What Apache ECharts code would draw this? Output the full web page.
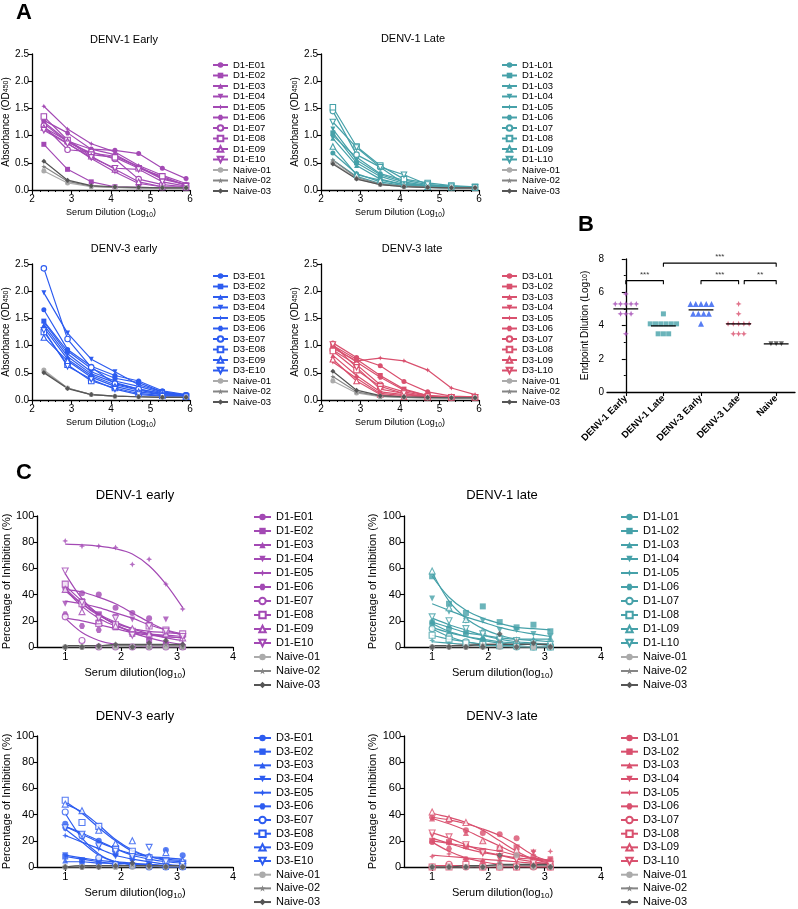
<!DOCTYPE html>
<html><head><meta charset="utf-8">
<script src="https://cdn.jsdelivr.net/npm/echarts@6/dist/echarts.min.js"></script>
<style>html,body{margin:0;padding:0;background:#fff}#c{width:798px;height:909px}</style>
</head><body><div id="c"></div>
<script>
// ---------------- DATA ----------------
// Panel A: ELISA absorbance (OD450) vs serum dilution (log10)
const aX = [2.3, 2.9, 3.5, 4.1, 4.7, 5.3, 5.9];
const namesD1E = ['D1-E01','D1-E02','D1-E03','D1-E04','D1-E05','D1-E06','D1-E07','D1-E08','D1-E09','D1-E10'];
const namesD1L = ['D1-L01','D1-L02','D1-L03','D1-L04','D1-L05','D1-L06','D1-L07','D1-L08','D1-L09','D1-L10'];
const namesD3E = ['D3-E01','D3-E02','D3-E03','D3-E04','D3-E05','D3-E06','D3-E07','D3-E08','D3-E09','D3-E10'];
const namesD3L = ['D3-L01','D3-L02','D3-L03','D3-L04','D3-L05','D3-L06','D3-L07','D3-L08','D3-L09','D3-L10'];
const namesNaive = ['Naive-01','Naive-02','Naive-03'];

const aD1Early = [
 [1.25,0.90,0.75,0.73,0.67,0.40,0.21],
 [0.84,0.38,0.15,0.06,0.05,0.04,0.04],
 [1.22,0.88,0.68,0.62,0.43,0.22,0.10],
 [1.12,0.86,0.58,0.33,0.12,0.06,0.05],
 [1.54,1.12,0.85,0.70,0.45,0.27,0.12],
 [1.28,1.05,0.75,0.65,0.42,0.20,0.10],
 [1.18,0.74,0.70,0.57,0.20,0.10,0.06],
 [1.35,0.92,0.65,0.60,0.40,0.25,0.08],
 [1.15,0.90,0.62,0.38,0.15,0.06,0.05],
 [1.10,0.85,0.60,0.40,0.38,0.15,0.07]
];
const aD1EarlyNaive = [
 [0.35,0.13,0.06,0.05,0.04,0.04,0.04],
 [0.43,0.16,0.07,0.05,0.04,0.04,0.04],
 [0.53,0.18,0.08,0.06,0.05,0.04,0.04]
];
const aD1Late = [
 [0.68,0.30,0.15,0.08,0.05,0.04,0.04],
 [1.05,0.50,0.25,0.12,0.07,0.05,0.04],
 [0.95,0.45,0.20,0.10,0.06,0.05,0.04],
 [1.12,0.55,0.28,0.15,0.08,0.06,0.05],
 [0.55,0.25,0.12,0.07,0.05,0.04,0.04],
 [1.00,0.60,0.30,0.18,0.10,0.07,0.05],
 [1.45,0.65,0.42,0.12,0.08,0.06,0.05],
 [1.52,0.80,0.45,0.20,0.13,0.08,0.06],
 [0.80,0.28,0.18,0.10,0.06,0.05,0.04],
 [1.25,0.78,0.42,0.28,0.10,0.06,0.05]
];
const aD1LateNaive = [
 [0.50,0.21,0.10,0.06,0.05,0.04,0.04],
 [0.55,0.23,0.11,0.07,0.05,0.04,0.04],
 [0.48,0.20,0.10,0.06,0.05,0.04,0.04]
];
const aD3Early = [
 [1.66,0.93,0.62,0.45,0.35,0.17,0.10],
 [1.45,0.90,0.58,0.40,0.32,0.15,0.09],
 [1.38,0.80,0.48,0.32,0.20,0.12,0.08],
 [1.97,1.23,0.75,0.52,0.28,0.15,0.09],
 [1.43,0.85,0.52,0.35,0.25,0.13,0.08],
 [1.33,0.75,0.45,0.28,0.18,0.10,0.07],
 [2.42,1.12,0.60,0.30,0.20,0.12,0.08],
 [1.25,0.65,0.35,0.22,0.12,0.08,0.06],
 [1.15,0.72,0.42,0.25,0.15,0.10,0.07],
 [1.28,0.62,0.38,0.20,0.10,0.07,0.06]
];
const aD3EarlyNaive = [
 [0.55,0.22,0.10,0.07,0.06,0.05,0.05],
 [0.52,0.22,0.10,0.07,0.06,0.05,0.05],
 [0.50,0.21,0.10,0.07,0.06,0.05,0.05]
];
const aD3Late = [
 [1.05,0.78,0.63,0.34,0.15,0.07,0.06],
 [1.00,0.75,0.45,0.20,0.08,0.06,0.05],
 [0.82,0.45,0.15,0.10,0.06,0.05,0.05],
 [0.70,0.40,0.12,0.08,0.06,0.05,0.05],
 [0.95,0.72,0.77,0.72,0.55,0.22,0.10],
 [0.98,0.70,0.42,0.18,0.08,0.06,0.05],
 [0.92,0.65,0.28,0.15,0.07,0.05,0.05],
 [0.90,0.55,0.25,0.12,0.06,0.05,0.05],
 [0.75,0.35,0.10,0.06,0.05,0.05,0.05],
 [1.02,0.60,0.20,0.12,0.06,0.05,0.05]
];
const aD3LateNaive = [
 [0.35,0.13,0.06,0.05,0.04,0.04,0.04],
 [0.43,0.15,0.07,0.05,0.04,0.04,0.04],
 [0.53,0.18,0.08,0.06,0.05,0.04,0.04]
];

// Panel B: endpoint dilution (log10)
const bGroups = ['DENV-1 Early','DENV-1 Late','DENV-3 Early','DENV-3 Late','Naive'];
const bD1E = [5.9,5.3,5.3,5.3,5.3,5.3,4.7,4.7,4.7,3.5];
const bD1L = [4.7,4.1,4.1,4.1,4.1,4.1,4.1,3.5,3.5,3.5];
const bD3E = [5.3,5.3,5.3,5.3,5.3,4.7,4.7,4.7,4.7,4.1];
const bD3L = [5.3,4.7,4.1,4.1,4.1,4.1,4.1,3.5,3.5,3.5];
const bNaive = [2.9,2.9,2.9];
const bSigFrom = [0, 2, 3.15, 1];
const bSigTo   = [1, 3, 4, 4];
const bSigY    = [6.7, 6.7, 6.7, 7.75];
const bSigText = ['***','***','**','***'];

// Panel C: % inhibition vs serum dilution (log10); points and fitted curve values
const cX = [1, 1.3, 1.6, 1.9, 2.2, 2.5, 2.8, 3.1];
const cD1EarlyPts = [
 [45,41,40,30,26,22,13,9],
 [48,35,25,15,10,5,2,0],
 [44,33,22,18,14,8,5,3],
 [33,30,24,23,21,17,21,8],
 [81,77,77,76,63,67,48,29],
 [25,16,13,16,12,10,9,8],
 [23,5,0,0,0,0,0,0],
 [48,33,18,17,12,16,13,10],
 [44,27,20,16,14,10,10,7],
 [58,34,22,22,9,16,12,8]
];
const cD1EarlyFit = [
 [44,42,38,33,26,19,13,9],
 [47,35,25,17,11,7,4,2],
 [43,33,25,19,14,10,7,5],
 [35,33,30,26,22,17,13,10],
 [78.5,78,77,75,71,62,48,30],
 [22,20,17,14,11,9,8,7],
 [22,11,5,2,1,0,0,0],
 [45,33,24,18,14,12,11,10],
 [44,31,22,16,12,10,8,7],
 [56,37,25,17,12,10,9,8]
];
const cD1EarlyNaivePts = [[0,0,0,0,0,0,0,0],[0,0,0,1,0,0,2,0],[0,0,1,2,0,3,5,2]];
const cD1EarlyNaiveFit = [[0,0,0,0,0,0,0,0],[1,1,1,1,1,1,1,1],[1,1,1,2,2,2,2,2]];

const cD1LatePts = [
 [19,14,10,5,3,2,1,1],
 [54,33,26,31,19,15,17,12],
 [20,17,12,8,6,4,6,7],
 [37,27,20,20,13,13,10,8],
 [5,3,2,1,1,0,0,0],
 [17,10,12,6,4,3,2,2],
 [14,8,4,2,1,0,0,0],
 [9,6,3,2,1,1,0,0],
 [58,30,21,12,8,5,4,3],
 [23,20,14,10,6,5,3,2]
];
const cD1LateFit = [
 [18,12,8,5,3,2,2,1],
 [54,38,28,22,18,15,14,13],
 [19,15,11,9,7,6,6,6],
 [33,28,23,19,15,12,10,8],
 [4,3,2,1,1,0,0,0],
 [15,11,8,6,4,3,2,2],
 [14,8,4,2,1,0,0,0],
 [9,6,4,2,1,1,0,0],
 [57,35,22,14,9,6,5,4],
 [22,17,13,9,6,4,3,2]
];
const cD1LateNaivePts = [[0,0,0,0,0,0,0,0],[0,1,0,2,4,5,3,1],[0,0,0,0,10,0,3,0]];
const cD1LateNaiveFit = [[0,0,0,0,0,0,0,0],[1,1,2,2,2,2,2,2],[1,1,1,2,2,2,2,2]];

const cD3EarlyPts = [
 [33,24,20,10,8,8,13,9],
 [8,5,4,2,1,1,0,0],
 [5,4,3,3,2,1,1,1],
 [9,5,15,8,4,2,2,1],
 [24,22,14,9,5,3,2,1],
 [30,25,6,2,1,0,0,0],
 [42,24,7,2,1,0,0,0],
 [51,34,31,14,12,7,5,3],
 [48,43,28,18,20,8,11,5],
 [30,25,16,12,8,15,4,2]
];
const cD3EarlyFit = [
 [31,25,19,14,10,8,7,6],
 [8,6,4,2,1,1,0,0],
 [4,4,3,3,2,2,1,1],
 [9,7,5,4,3,2,1,1],
 [24,19,14,9,6,4,2,1],
 [29,19,9,4,2,1,0,0],
 [41,22,10,4,2,1,0,0],
 [50,41,30,20,12,8,5,4],
 [48,42,32,21,13,8,6,5],
 [31,26,20,14,9,6,4,3]
];
const cD3EarlyNaivePts = [[0,0,0,0,0,0,0,0],[0,0,1,0,2,0,1,0],[0,0,0,1,3,1,0,0]];
const cD3EarlyNaiveFit = [[0,0,0,0,0,0,0,0],[0,0,1,1,1,1,1,1],[0,1,1,1,1,1,1,1]];

const cD3LatePts = [
 [38,36,28,26,25,22,8,3],
 [20,19,16,12,14,15,5,5],
 [37,36,26,20,14,10,5,3],
 [24,18,15,10,6,5,11,6],
 [8,10,6,5,4,4,12,12],
 [19,14,6,3,1,0,0,0],
 [0,2,0,0,0,0,0,0],
 [0,0,2,0,0,0,1,0],
 [42,37,34,20,15,13,4,2],
 [26,23,17,11,8,6,3,2]
];
const cD3LateFit = [
 [38,36,33,29,24,17,9,4],
 [20,18,16,14,12,9,7,5],
 [37,33,28,22,16,10,6,4],
 [22,18,14,11,9,7,6,5],
 [9,8,7,6,5,4,3,3],
 [19,12,7,4,2,1,0,0],
 [1,1,1,0,0,0,0,0],
 [0,0,0,0,0,0,0,0],
 [41,38,34,28,20,12,6,3],
 [26,22,17,12,9,6,4,2]
];
const cD3LateNaivePts = [[0,0,0,0,0,9,0,0],[0,0,0,0,3,0,2,0],[0,0,0,0,9,0,1,0]];
const cD3LateNaiveFit = [[0,0,0,0,1,1,1,1],[0,0,0,1,1,1,1,1],[0,0,1,1,2,2,2,2]];

// ---------------- STYLE ----------------
const FONT = 'Liberation Sans, Arial, Helvetica, sans-serif';
const colD1E = '#a349b4', colD1L = '#46a1a9', colD3E = '#2d5cf0', colD3L = '#d9506e';
const naiveCols = ['#ababab', '#858585', '#555555'];
const STAR4 = 'path://M0,-10 L3,-3 L10,0 L3,3 L0,10 L-3,3 L-10,0 L-3,-3 Z';
const HEX = 'path://M-10,0 L-5,-8.7 L5,-8.7 L10,0 L5,8.7 L-5,8.7 Z';
const STAR5 = 'path://M0,-10 L2.4,-3.1 L9.5,-3.1 L3.8,1.2 L5.9,8.1 L0,4 L-5.9,8.1 L-3.8,1.2 L-9.5,-3.1 L-2.4,-3.1 Z';
const shapes = [
 {s:'circle'}, {s:'rect'}, {s:'triangle'}, {s:'triangle', r:180}, {s:STAR4}, {s:HEX},
 {s:'circle', o:true}, {s:'rect', o:true}, {s:'triangle', o:true}, {s:'triangle', r:180, o:true}
];
const naiveShapes = [{s:'circle'}, {s:STAR5}, {s:'diamond'}];

const grids = [], xAxes = [], yAxes = [], series = [], legends = [], graphics = [];
const axisBase = {
  axisLine: {show: true, lineStyle: {color: '#000', width: 1.3}},
  axisTick: {show: true, length: 4, lineStyle: {color: '#000', width: 1.1}},
  splitLine: {show: false}
};

function styleFor(shape, color, size) {
  return {
    symbol: shape.s, symbolRotate: shape.r || 0, symbolSize: size,
    color: color,
    itemStyle: shape.o ? {color: '#fff', borderColor: color, borderWidth: 1.1} : {color: color},
    lineStyle: {color: color, width: 1.2}
  };
}

function addText(text, x, y, size, weight) {
  graphics.push({type: 'text', x: x, y: y, z: 100,
    style: {text: text, fill: '#000', font: (weight || 'normal') + ' ' + size + 'px ' + FONT, align: 'center', verticalAlign: 'middle'}});
}

function addA(cfg) {
  const gi = grids.length;
  grids.push({left: cfg.left, top: cfg.top, width: 158, height: 136});
  const xi = xAxes.length, yi = yAxes.length;
  xAxes.push(Object.assign({}, axisBase, {
    gridIndex: gi, type: 'value', min: 2, max: 6, interval: 1,
    minorTick: {show: true, splitNumber: 5, length: 2, lineStyle: {color: '#000'}},
    axisLabel: {fontSize: 10, color: '#000', margin: 4, fontFamily: FONT},
    name: 'Serum Dilution (Log{sub|10})', nameLocation: 'middle', nameGap: 17,
    nameTextStyle: {fontSize: 9, color: '#000', fontFamily: FONT, rich: {sub: {fontSize: 6.5, padding: [5, 0, 0, 0], fontFamily: FONT}}}
  }));
  yAxes.push(Object.assign({}, axisBase, {
    gridIndex: gi, type: 'value', min: 0, max: 2.5, interval: 0.5,
    axisLabel: {fontSize: 10, color: '#000', margin: 3, fontFamily: FONT, formatter: v => v.toFixed(1)},
    name: 'Absorbance (OD{sub|450})', nameLocation: 'middle', nameGap: 16,
    nameTextStyle: {fontSize: 10, color: '#000', fontFamily: FONT, rich: {sub: {fontSize: 7, fontFamily: FONT}}}
  }));
  const all = cfg.data.map((d, i) => ({name: cfg.names[i], vals: d, st: styleFor(shapes[i], cfg.color, shapes[i].o ? 5.5 : 5)}))
    .concat(cfg.naive.map((d, i) => ({name: namesNaive[i], vals: d, st: styleFor(naiveShapes[i], naiveCols[i], 5)})));
  all.forEach(a => {
    series.push(Object.assign({
      type: 'line', name: a.name, xAxisIndex: xi, yAxisIndex: yi,
      data: aX.map((x, j) => [x, a.vals[j]]), showSymbol: true
    }, a.st));
  });
  legends.push({
    orient: 'vertical', left: cfg.legLeft, top: cfg.legTop, height: 200, padding: 0,
    data: cfg.names.concat(namesNaive),
    itemWidth: 15, itemHeight: 7, itemGap: 0.5, selectedMode: false,
    textStyle: {fontSize: 9.5, lineHeight: 9.8, color: '#000', fontFamily: FONT}
  });
  addText(cfg.title, cfg.titleX, cfg.titleY, 11);
}

function addC(cfg) {
  const gi = grids.length;
  grids.push({left: cfg.left, top: cfg.top, width: 197, height: 131});
  const xi = xAxes.length, yi = yAxes.length;
  xAxes.push(Object.assign({}, axisBase, {
    gridIndex: gi, type: 'value', min: 0.5, max: 4,
    axisTick: {show: true, length: 4, lineStyle: {color: '#000', width: 1.1}, customValues: [1, 2, 3, 4]},
    axisLabel: {fontSize: 11, color: '#000', margin: 4, fontFamily: FONT, customValues: [1, 2, 3, 4]},
    name: 'Serum dilution(log{sub|10})', nameLocation: 'middle', nameGap: 19,
    nameTextStyle: {fontSize: 11, color: '#000', fontFamily: FONT, rich: {sub: {fontSize: 8, padding: [6, 0, 0, 0], fontFamily: FONT}}}
  }));
  yAxes.push(Object.assign({}, axisBase, {
    gridIndex: gi, type: 'value', min: 0, max: 100, interval: 20,
    axisLabel: {fontSize: 11, color: '#000', margin: 3, fontFamily: FONT},
    name: 'Percentage of Inhibition (%)', nameLocation: 'middle', nameGap: 22,
    nameTextStyle: {fontSize: 11, color: '#000', fontFamily: FONT}
  }));
  const all = cfg.pts.map((p, i) => ({name: cfg.names[i], p: p, f: cfg.fit[i], st: styleFor(shapes[i], cfg.color, 6)}))
    .concat(cfg.naivePts.map((p, i) => ({name: namesNaive[i], p: p, f: cfg.naiveFit[i], st: styleFor(naiveShapes[i], naiveCols[i], 6)})));
  all.forEach(a => {
    series.push(Object.assign({
      type: 'line', name: a.name, xAxisIndex: xi, yAxisIndex: yi, smooth: 0.35, showSymbol: false, z: 2,
      data: cX.map((x, j) => [x, a.f[j]])
    }, a.st));
  });
  all.forEach(a => {
    series.push(Object.assign({
      type: 'scatter', name: a.name, xAxisIndex: xi, yAxisIndex: yi, z: 3,
      data: cX.map((x, j) => [x, a.p[j]])
    }, a.st));
  });
  legends.push({
    orient: 'vertical', left: cfg.legLeft, top: cfg.legTop, height: 200, padding: 0,
    data: cfg.names.concat(namesNaive),
    itemWidth: 17, itemHeight: 8, itemGap: cfg.legGap, selectedMode: false,
    textStyle: {fontSize: 11, lineHeight: 12, color: '#000', fontFamily: FONT}
  });
  addText(cfg.title, cfg.titleX, cfg.titleY, 13);
}

// ---- Panel A ----
addA({left: 32, top: 54, title: 'DENV-1 Early', titleX: 124, titleY: 40, names: namesD1E, data: aD1Early, naive: aD1EarlyNaive, color: colD1E, legLeft: 212, legTop: 60});
addA({left: 321, top: 54, title: 'DENV-1 Late', titleX: 413, titleY: 39, names: namesD1L, data: aD1Late, naive: aD1LateNaive, color: colD1L, legLeft: 501, legTop: 60});
addA({left: 32, top: 264, title: 'DENV-3 early', titleX: 124, titleY: 249, names: namesD3E, data: aD3Early, naive: aD3EarlyNaive, color: colD3E, legLeft: 212, legTop: 271});
addA({left: 321, top: 264, title: 'DENV-3 late', titleX: 412, titleY: 249, names: namesD3L, data: aD3Late, naive: aD3LateNaive, color: colD3L, legLeft: 501, legTop: 271});

// ---- Panel B ----
(function () {
  const gi = grids.length;
  grids.push({left: 607, top: 259, width: 188, height: 133});
  const xi = xAxes.length, yi = yAxes.length;
  xAxes.push(Object.assign({}, axisBase, {
    gridIndex: gi, type: 'category', data: bGroups,
    axisTick: {show: true, alignWithLabel: true, length: 4, lineStyle: {color: '#000', width: 1.1}},
    axisLabel: {interval: 0, rotate: 45, fontSize: 9.5, fontWeight: 'bold', color: '#000', margin: 5, fontFamily: FONT}
  }));
  const xv = xAxes.length;
  xAxes.push({gridIndex: gi, type: 'value', min: -0.5, max: 4.5, show: false});
  yAxes.push(Object.assign({}, axisBase, {
    gridIndex: gi, type: 'value', min: 0, max: 8, interval: 2,
    minorTick: {show: true, splitNumber: 2, length: 2, lineStyle: {color: '#000'}},
    axisLabel: {fontSize: 10, color: '#000', margin: 3, fontFamily: FONT},
    name: 'Endpoint Dilution (Log{sub|10})', nameLocation: 'middle', nameGap: 17,
    nameTextStyle: {fontSize: 10, color: '#000', fontFamily: FONT, rich: {sub: {fontSize: 7, fontFamily: FONT}}}
  }));
  const groups = [
    {vals: bD1E, color: colD1E, sym: STAR4, size: 6},
    {vals: bD1L, color: colD1L, sym: 'rect', size: 5},
    {vals: bD3E, color: colD3E, sym: 'triangle', size: 6},
    {vals: bD3L, color: colD3L, sym: STAR4, size: 6},
    {vals: bNaive, color: '#444', sym: 'triangle', rot: 180, size: 5}
  ];
  groups.forEach((g, gIdx) => {
    // spread equal values in a row around the category centre
    const counts = {}, seen = {};
    g.vals.forEach(v => counts[v] = (counts[v] || 0) + 1);
    const pts = g.vals.map(v => {
      const k = seen[v] = (seen[v] || 0);
      seen[v]++;
      return [gIdx + (k - (counts[v] - 1) / 2) * 0.14, v];
    });
    series.push({type: 'scatter', xAxisIndex: xv, yAxisIndex: yi, data: pts, symbol: g.sym, symbolRotate: g.rot || 0,
      symbolSize: g.size, itemStyle: {color: g.color}, z: 3});
    const mean = g.vals.reduce((s, v) => s + v, 0) / g.vals.length;
    series.push({type: 'line', xAxisIndex: xv, yAxisIndex: yi, data: [[gIdx - 0.33, mean], [gIdx + 0.33, mean]],
      showSymbol: false, symbol: 'none', lineStyle: {color: '#000', width: 1.3}, z: 4});
  });
  bSigFrom.forEach((f, i) => {
    const t = bSigTo[i], y = bSigY[i];
    series.push({type: 'line', xAxisIndex: xv, yAxisIndex: yi, symbol: 'none',
      data: [[f, y - 0.22], [f, y], [t, y], [t, y - 0.22]], lineStyle: {color: '#000', width: 1.1}, z: 4});
    series.push({type: 'scatter', xAxisIndex: xv, yAxisIndex: yi, symbolSize: 0,
      data: [{value: [(f + t) / 2, y], name: bSigText[i]}],
      label: {show: true, position: 'top', distance: 2, formatter: '{b}', fontSize: 8, color: '#000', fontFamily: FONT}});
  });
})();

// ---- Panel C ----
addC({left: 36, top: 516, title: 'DENV-1 early', titleX: 135, titleY: 495, names: namesD1E, pts: cD1EarlyPts, fit: cD1EarlyFit, naivePts: cD1EarlyNaivePts, naiveFit: cD1EarlyNaiveFit, color: colD1E, legLeft: 253, legTop: 511, legGap: 2});
addC({left: 404, top: 516, title: 'DENV-1 late', titleX: 502, titleY: 495, names: namesD1L, pts: cD1LatePts, fit: cD1LateFit, naivePts: cD1LateNaivePts, naiveFit: cD1LateNaiveFit, color: colD1L, legLeft: 620, legTop: 511, legGap: 2});
addC({left: 36, top: 736, title: 'DENV-3 early', titleX: 135, titleY: 716, names: namesD3E, pts: cD3EarlyPts, fit: cD3EarlyFit, naivePts: cD3EarlyNaivePts, naiveFit: cD3EarlyNaiveFit, color: colD3E, legLeft: 253, legTop: 732, legGap: 1.67});
addC({left: 404, top: 736, title: 'DENV-3 late', titleX: 502, titleY: 716, names: namesD3L, pts: cD3LatePts, fit: cD3LateFit, naivePts: cD3LateNaivePts, naiveFit: cD3LateNaiveFit, color: colD3L, legLeft: 620, legTop: 732, legGap: 1.67});

// panel letters
addText('A', 24, 13, 22, 'bold');
addText('B', 586, 225, 22, 'bold');
addText('C', 24, 473, 22, 'bold');

const chart = echarts.init(document.getElementById('c'), null, {renderer: 'canvas'});
chart.setOption({
  animation: false,
  backgroundColor: '#fff',
  textStyle: {fontFamily: FONT},
  grid: grids, xAxis: xAxes, yAxis: yAxes, series: series, legend: legends, graphic: graphics
});
</script></body></html>
